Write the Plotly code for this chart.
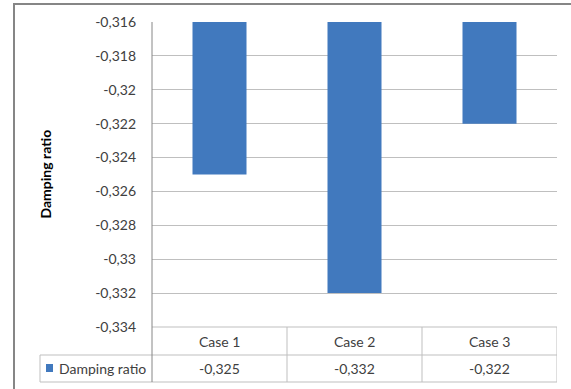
import plotly.graph_objects as go

# Damping ratio per case
cases = ["Case 1", "Case 2", "Case 3"]
damping = [-0.325, -0.332, -0.322]
series_name = "Damping ratio"
y_ticks = [-0.316, -0.318, -0.32, -0.322, -0.324, -0.326, -0.328, -0.33, -0.332, -0.334]

W, H = 571, 389
L, R, T, B = 152, 557, 22, 327          # plot area in pixels
BAR = "#4179BE"
GRID = "#BFBFBF"
AXIS = "#868686"
TXT = "#404040"
FONT = "Lato, 'Liberation Sans', sans-serif"


def px(xp):
    return (xp - L) / (R - L)


def py(yp):
    return (B - yp) / (B - T)


def fmt(v):
    return f"{v:g}".replace(".", ",")


fig = go.Figure()
fig.add_trace(go.Bar(
    x=list(range(len(cases))), y=damping, name=series_name,
    marker=dict(color=BAR, line=dict(width=0)), width=0.4,
    hoverinfo="skip", showlegend=False,
))

shapes = []
def line(x0, y0, x1, y1, color=GRID, width=1, xref="paper"):
    shapes.append(dict(type="line", xref=xref, yref="paper", x0=x0, y0=y0,
                       x1=x1, y1=y1, line=dict(color=color, width=width), layer="above"))

# outer chart frame (left and top edges)
line(px(14), py(4), px(14), py(392), color=AXIS, width=2)
line(px(13), py(4), px(575), py(4), color=AXIS, width=2)

# data table grid
row1, row2, row3 = py(327), py(355), py(382)
line(0, row1, 1, row1)
line(px(40), row2, 1, row2)
line(px(40), row3, 1, row3)
line(px(40), row2, px(40), row3)
for i in range(len(cases)):
    line(i + 0.5, row1, i + 0.5, row3, xref="x")
# vertical axis extended through the table
line(0, 1, 0, row3, color=AXIS, width=1)

# legend key in the table
shapes.append(dict(type="rect", xref="paper", yref="paper",
                   x0=px(46), x1=px(53), y0=py(372), y1=py(364),
                   fillcolor=BAR, line=dict(width=0)))

cell_font = dict(size=14, color=TXT, family=FONT)
annotations = []
for i, (c, v) in enumerate(zip(cases, damping)):
    annotations.append(dict(x=i, y=(row1 + row2) / 2, xref="x", yref="paper",
                            xanchor="center", yanchor="middle",
                            text=c, showarrow=False, font=cell_font))
    annotations.append(dict(x=i, y=(row2 + row3) / 2, xref="x", yref="paper",
                            xanchor="center", yanchor="middle",
                            text=fmt(v), showarrow=False, font=cell_font))
annotations.append(dict(x=px(57), y=(row2 + row3) / 2, xref="paper", yref="paper",
                        xanchor="left", yanchor="middle", text=series_name, showarrow=False,
                        font=cell_font))
annotations.append(dict(x=px(45), y=0.5, xref="paper", yref="paper",
                        xanchor="center", yanchor="middle",
                        text="<b>Damping ratio</b>", textangle=-90, showarrow=False,
                        font=dict(size=14, color="#000000", family=FONT)))

fig.update_layout(
    width=W, height=H,
    margin=dict(l=L, r=W - R, t=T, b=H - B),
    paper_bgcolor="white", plot_bgcolor="white",
    bargap=0.6,
    xaxis=dict(range=[-0.5, len(cases) - 0.5], showticklabels=False, showgrid=False,
               zeroline=False, showline=False, fixedrange=True),
    yaxis=dict(range=[min(y_ticks), max(y_ticks)], tickvals=y_ticks,
               ticktext=[fmt(v) for v in y_ticks], showgrid=True, gridcolor=GRID,
               gridwidth=1, zeroline=False, showline=False, ticks="",
               ticklabelstandoff=15,
               tickfont=dict(size=14, color=TXT, family=FONT)),
    shapes=shapes, annotations=annotations,
    font=dict(family=FONT),
)

fig.write_html("out.html")
